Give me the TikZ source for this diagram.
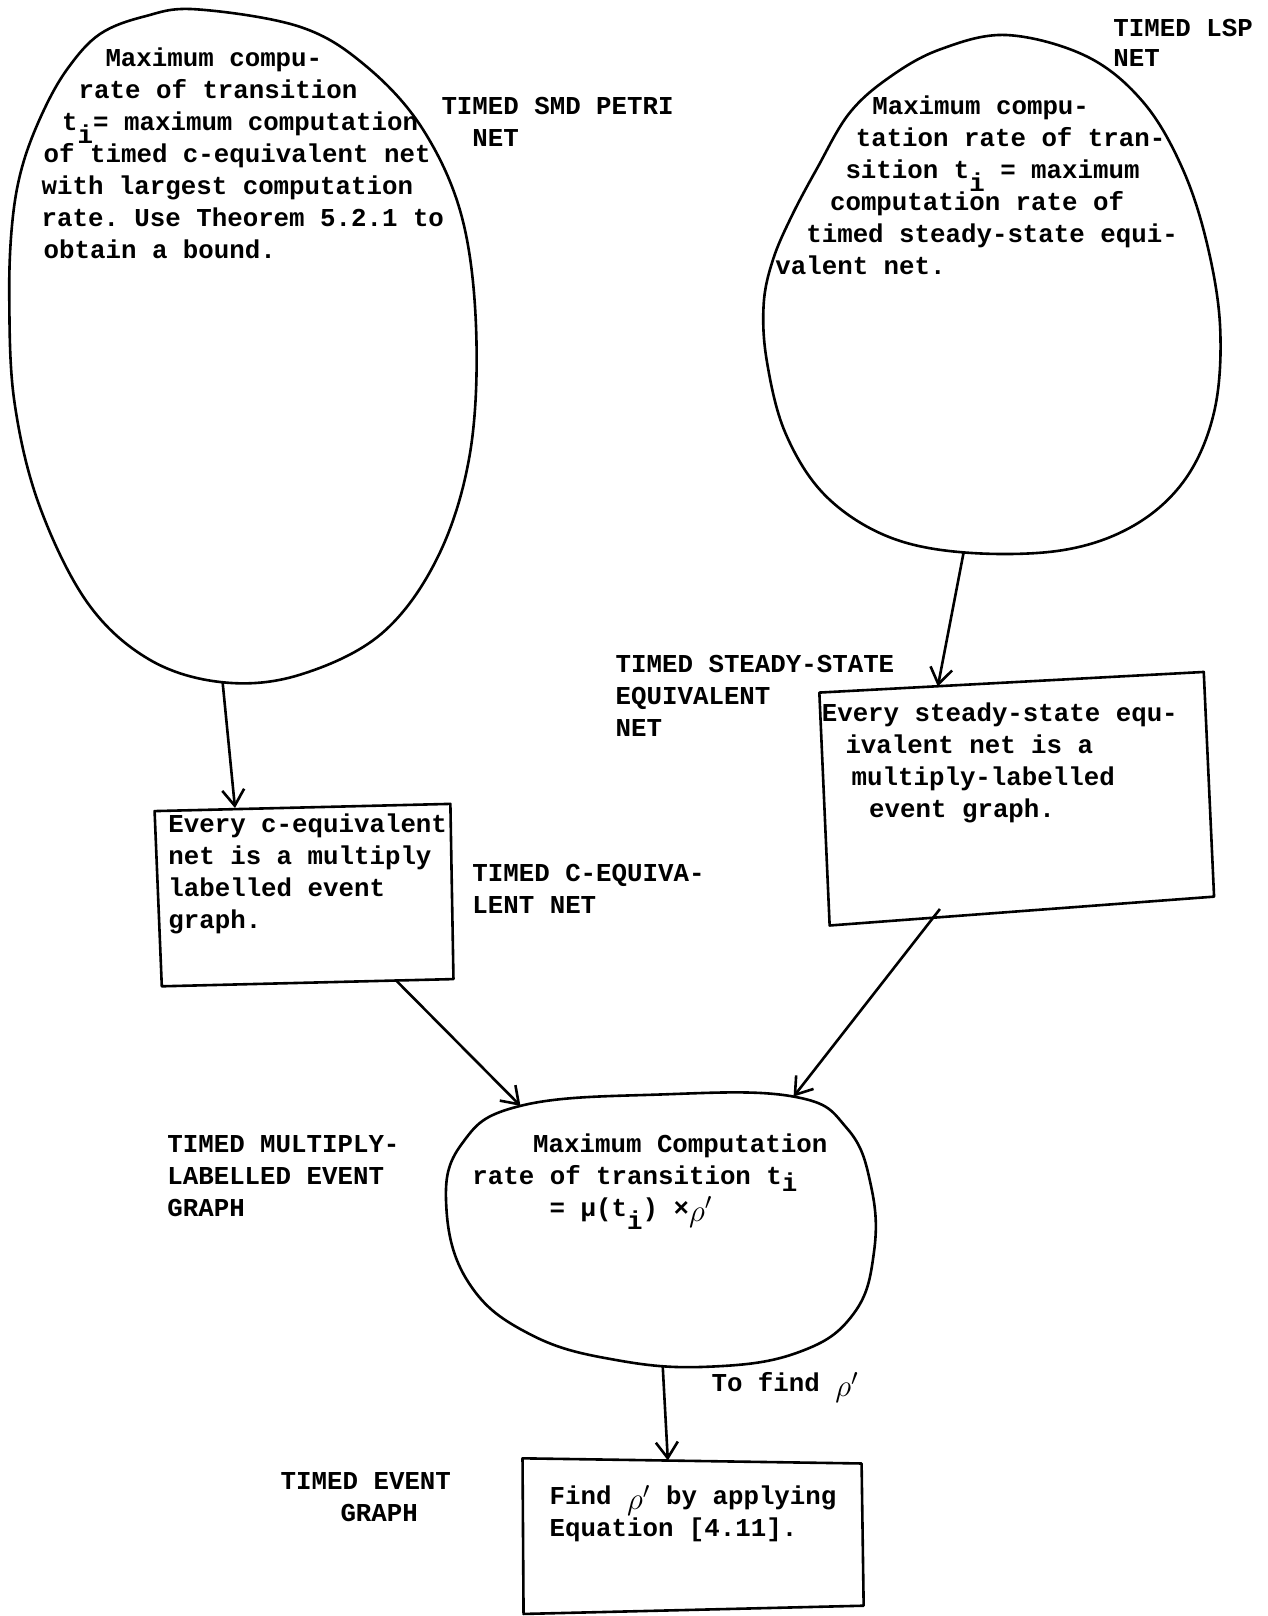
\documentclass[tikz,border=0pt]{standalone}
\usepackage{fontspec}
\setmonofont{Liberation Mono}
\usetikzlibrary{arrows.meta}
\newcommand\lowi{\raisebox{-0.5em}{i}}
\newcommand\rhop{\raisebox{-0.2em}{\scalebox{1.3}{\(\rho'\)}}}
\begin{document}
\begin{tikzpicture}[x=0.5155pt,y=-0.5155pt,
  txt/.style={font=\ttfamily\bfseries\fontsize{12.9}{16}\selectfont, inner sep=0pt, anchor=base west},
  outline/.style={line width=1.3pt, line join=round},
  conn/.style={line width=1.3pt, -{Straight Barb[length=8pt,width=11pt,line width=1.3pt]}}]
\useasboundingbox[fill=white] (0,0) rectangle (1230,1568);

% ---------- shapes ----------
% left egg (timed SMD Petri net)
\draw[outline] plot[smooth cycle, tension=0.6] coordinates {(190,9) (291,26) (355,64) (410,125) (448,210) (462,320) (456,440) (425,540) (370,615) (290,655) (216,662) (145,640) (85,585) (38,490) (14,390) (9,290) (12,215) (22,160) (42,108) (66,66) (97,33) (140,16)};
\coordinate (LEb) at (216,662);
% right egg (timed LSP net)
\draw[outline] plot[smooth cycle, tension=0.6] coordinates {(977,34) (1055,55) (1110,100) (1148,165) (1172,240) (1184,320) (1178,400) (1150,465) (1100,510) (1030,534) (935,536) (860,520) (800,480) (762,420) (744,350) (741,295) (750,252) (768,210) (793,163) (824,110) (863,75) (912,48)};
\coordinate (REb) at (935,536);
% c-equivalent box
\draw[outline] (150,787) -- (437,780) -- (440,950) -- (157,957) -- cycle;
\coordinate (CBt) at (228,784);
\coordinate (CBb) at (385,952);
% steady-state box
\draw[outline] (795,672) -- (1168,652) -- (1178,870) -- (805,898) -- cycle;
\coordinate (SBt) at (910,666);
\coordinate (SBb) at (912,882);
% bottom ellipse
\draw[outline] plot[smooth cycle, tension=0.7] coordinates {(505,1073) (640,1062) (770,1064) (822,1095) (845,1150) (848,1215) (828,1275) (775,1312) (690,1326) (600,1320) (515,1295) (455,1245) (433,1170) (448,1110)};
\coordinate (ELl) at (505,1073);
\coordinate (ELr) at (770,1064);
\coordinate (ELb) at (643,1325);
% bottom box
\draw[outline] (507,1415) -- (836,1420) -- (838,1558) -- (508,1566) -- cycle;
\coordinate (BBt) at (648,1417);

% ---------- connectors ----------
\draw[conn] (LEb) -- (CBt);
\draw[conn] (REb) -- (SBt);
\draw[conn] (CBb) -- (ELl);
\draw[conn] (SBb) -- (ELr);
\draw[conn] (ELb) -- (BBt);

% ---------- texts ----------
% left egg
\node[txt] (l1) at (102,65) {Maximum compu-};
\node[txt] (l2) at (76,96) {rate of transition};
\node[txt] (l3) at (60,127) {t\lowi= maximum computation};
\node[txt] (l4) at (42,158) {of timed c-equivalent net};
\node[txt] (l5) at (40,189) {with largest computation};
\node[txt] (l6) at (40,220) {rate. Use Theorem 5.2.1 to};
\node[txt] (l7) at (42,251) {obtain a bound.};
\node[txt] (smd1) at (428,111) {TIMED SMD PETRI};
\node[txt] (smd2) at (458,142) {NET};
% right egg
\node[txt] (r1) at (846,111) {Maximum compu-};
\node[txt] (r2) at (830,142) {tation rate of tran-};
\node[txt] (r3) at (820,173) {sition t\lowi{} = maximum};
\node[txt] (r4) at (805,204) {computation rate of};
\node[txt] (r5) at (782,235) {timed steady-state equi-};
\node[txt] (r6) at (752,266) {valent net.};
\node[txt] (lsp1) at (1080,35) {TIMED LSP};
\node[txt] (lsp2) at (1080,65) {NET};
% steady-state box
\node[txt] (ss0) at (597,653) {TIMED STEADY-STATE};
\node[txt] (ss0b) at (597,684) {EQUIVALENT};
\node[txt] (ss0c) at (597,715) {NET};
\node[txt] (s1) at (797,700) {Every steady-state equ-};
\node[txt] (s2) at (820,731) {ivalent net is a};
\node[txt] (s3) at (826,762) {multiply-labelled};
\node[txt] (s4) at (843,793) {event graph.};
% c-equivalent box
\node[txt] (c1) at (163,808) {Every c-equivalent};
\node[txt] (c2) at (163,839) {net is a multiply};
\node[txt] (c3) at (163,870) {labelled event};
\node[txt] (c4) at (163,901) {graph.};
\node[txt] (ce1) at (458,855) {TIMED C-EQUIVA-};
\node[txt] (ce2) at (458,886) {LENT NET};
% ellipse
\node[txt] (e1) at (517,1118) {Maximum Computation};
\node[txt] (e2) at (458,1149) {rate of transition t\raisebox{-0.3em}{i}};
\node[txt] (e3) at (533,1180) {= μ(t\lowi) ×\rhop};
\node[txt] (m1) at (162,1118) {TIMED MULTIPLY-};
\node[txt] (m2) at (162,1149) {LABELLED EVENT};
\node[txt] (m3) at (162,1180) {GRAPH};
\node[txt] (tf) at (690,1350) {To find \rhop};
% bottom box
\node[txt] (b1) at (533,1460) {Find \rhop{} by applying};
\node[txt] (b2) at (533,1491) {Equation [4.11].};
\node[txt] (te1) at (272,1445) {TIMED EVENT};
\node[txt] (te2) at (330,1476) {GRAPH};
\end{tikzpicture}
\end{document}
